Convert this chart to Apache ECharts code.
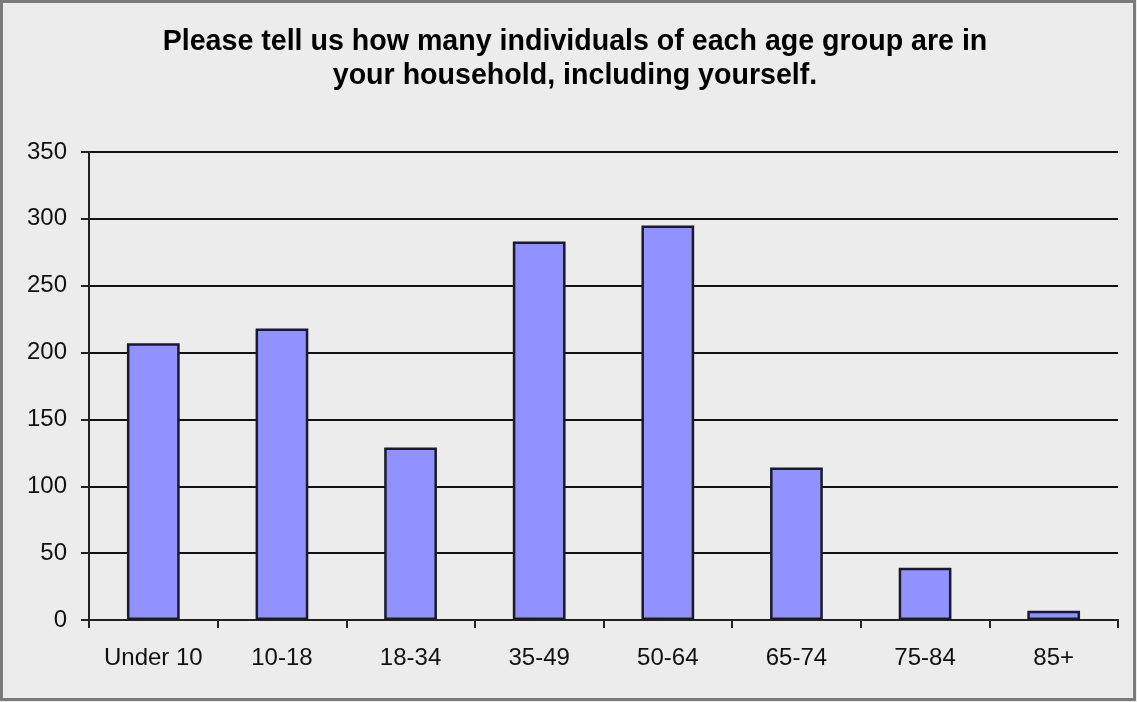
<!DOCTYPE html>
<html><head><meta charset="utf-8">
<script src="https://cdn.jsdelivr.net/npm/echarts@6/dist/echarts.min.js"></script>
<style>html,body{margin:0;padding:0;background:#ececec}#c{width:1137px;height:702px}</style>
</head><body><div id="c"></div>
<script>
const categories = ["Under 10","10-18","18-34","35-49","50-64","65-74","75-84","85+"];
const counts = [207, 218, 129, 283, 295, 114, 39, 7];
const titleText = "Please tell us how many individuals of each age group are in\nyour household, including yourself.";
const yMin = 0, yMax = 350, yStep = 50;

const chart = echarts.init(document.getElementById('c'), null, {renderer:'canvas'});
chart.setOption({
  backgroundColor: '#ececec',
  animation: false,
  title: {
    text: titleText,
    left: 570, top: 20, textAlign: 'center',
    textStyle: {fontFamily: 'Liberation Sans', fontWeight: 'bold', fontSize: 28.6, lineHeight: 34, color: '#000'}
  },
  graphic: [{
    type: 'rect', shape: {x: 1.5, y: 1.5, width: 1133, height: 698},
    style: {fill: 'none', stroke: '#7a7a7a', lineWidth: 3}, silent: true
  }],
  grid: {left: 89, right: 19, top: 152, bottom: 82, containLabel: false},
  xAxis: {
    type: 'category', data: categories,
    axisLine: {lineStyle: {color: '#222', width: 2}},
    axisTick: {show: true, length: 8, lineStyle: {color: '#222', width: 2}},
    axisLabel: {margin: 26, fontFamily: 'Liberation Sans', fontSize: 24, color: '#111'}
  },
  yAxis: {
    type: 'value', min: yMin, max: yMax, interval: yStep,
    axisLine: {show: true, lineStyle: {color: '#222', width: 2}},
    axisTick: {show: true, length: 8, lineStyle: {color: '#222', width: 2}},
    splitLine: {lineStyle: {color: '#111', width: 2}},
    axisLabel: {margin: 22, fontFamily: 'Liberation Sans', fontSize: 24, color: '#111'}
  },
  series: [{
    type: 'bar', data: counts, barWidth: '41%',
    itemStyle: {color: '#9191ff', borderColor: '#1a1a2a', borderWidth: 2.5}
  }]
});
</script></body></html>
